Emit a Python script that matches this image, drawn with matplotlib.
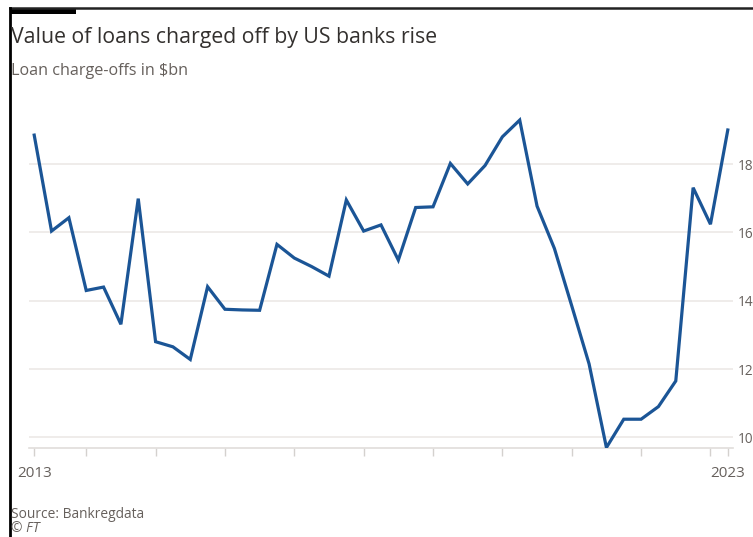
import matplotlib
matplotlib.use("Agg")
import matplotlib.pyplot as plt
from matplotlib.lines import Line2D
from matplotlib.patches import Rectangle

# Quarterly loan charge-offs, $bn, 2013 Q1 .. 2023 Q1
values = [18.85, 16.04, 16.43, 14.30, 14.40, 13.31, 16.99, 12.80, 12.65, 12.28,
          14.41, 13.75, 13.73, 13.72, 15.65, 15.25, 15.00, 14.72, 16.95, 16.04,
          16.22, 15.19, 16.73, 16.75, 18.02, 17.42, 17.96, 18.80, 19.29, 16.77,
          15.53, 13.85, 12.15, 9.70, 10.53, 10.53, 10.90, 11.65, 17.31, 16.24,
          19.00]
x_labels = ["2013", "2023"]
y_ticks = [10, 12, 14, 16, 18]
title = "Value of loans charged off by US banks rise"
subtitle = "Loan charge-offs in $bn"
source = "Source: Bankregdata"

W, H = 753, 537
fig = plt.figure(figsize=(W / 100, H / 100), dpi=100)
fig.patch.set_facecolor("white")
FONT = "Open Sans"
GREY = "#66605c"

def fx(px):
    return px / W

def fy(py):
    return 1 - py / H

ax_left, ax_right = 29, 733
ax_top, ax_bot = 109.5, 448
ax = fig.add_axes([fx(ax_left), fy(ax_bot), fx(ax_right - ax_left), (ax_bot - ax_top) / H])
xs = list(range(len(values)))
ax.plot(xs, values, color="#1b5596", lw=2.3, solid_joinstyle="miter", zorder=3)
ax.set_xlim(-0.3, len(values) - 1 + 0.3)
ax.set_ylim(9.687, 19.6)

for s in ["top", "left", "right"]:
    ax.spines[s].set_visible(False)
ax.spines["bottom"].set_color("#e0ddda")
ax.spines["bottom"].set_linewidth(1.2)

ax.yaxis.tick_right()
ax.set_yticks(y_ticks)
ax.set_yticklabels([str(v) for v in y_ticks], fontsize=9.8, color=GREY, family=FONT)
ax.tick_params(axis="y", length=0, pad=3.3)
ax.grid(axis="y", color="#ece9e6", lw=1.2)
ax.set_axisbelow(True)

# year ticks: first point, each Jan 1 (3 quarters after Q1 start), last point
tick_pos = [0] + [3 + 4 * k for k in range(10)] + [len(values) - 1]
ax.set_xticks(tick_pos)
labels = [""] * len(tick_pos)
labels[0] = x_labels[0]
labels[-1] = x_labels[1]
ax.set_xticklabels(labels, fontsize=11, color=GREY, family=FONT)
ax.tick_params(axis="x", length=6, width=1, color="#d4d1ce", pad=7)

# texts
fig.text(fx(11), fy(38), title, fontsize=15.3, color="#33302e", family=FONT, va="center", ha="left")
fig.text(fx(11), fy(71), subtitle, fontsize=11.6, color=GREY, family=FONT, va="center", ha="left")
fig.text(fx(11), fy(514), source, fontsize=9.9, color=GREY, family=FONT, va="center", ha="left")
fig.text(fx(11), fy(536), "\u00a9 FT", fontsize=9.9, color=GREY, family=FONT, va="bottom", ha="left", style="italic")

# frame decorations
fig.add_artist(Line2D([fx(10), fx(753)], [fy(8), fy(8)], color="#222222", lw=1.8))
fig.add_artist(Rectangle((fx(10), fy(13.5)), fx(66), 5.5 / H, color="black", lw=0))
fig.add_artist(Line2D([fx(10.3), fx(10.3)], [fy(8), fy(537)], color="black", lw=2))

fig.savefig("out.png", dpi=100)
